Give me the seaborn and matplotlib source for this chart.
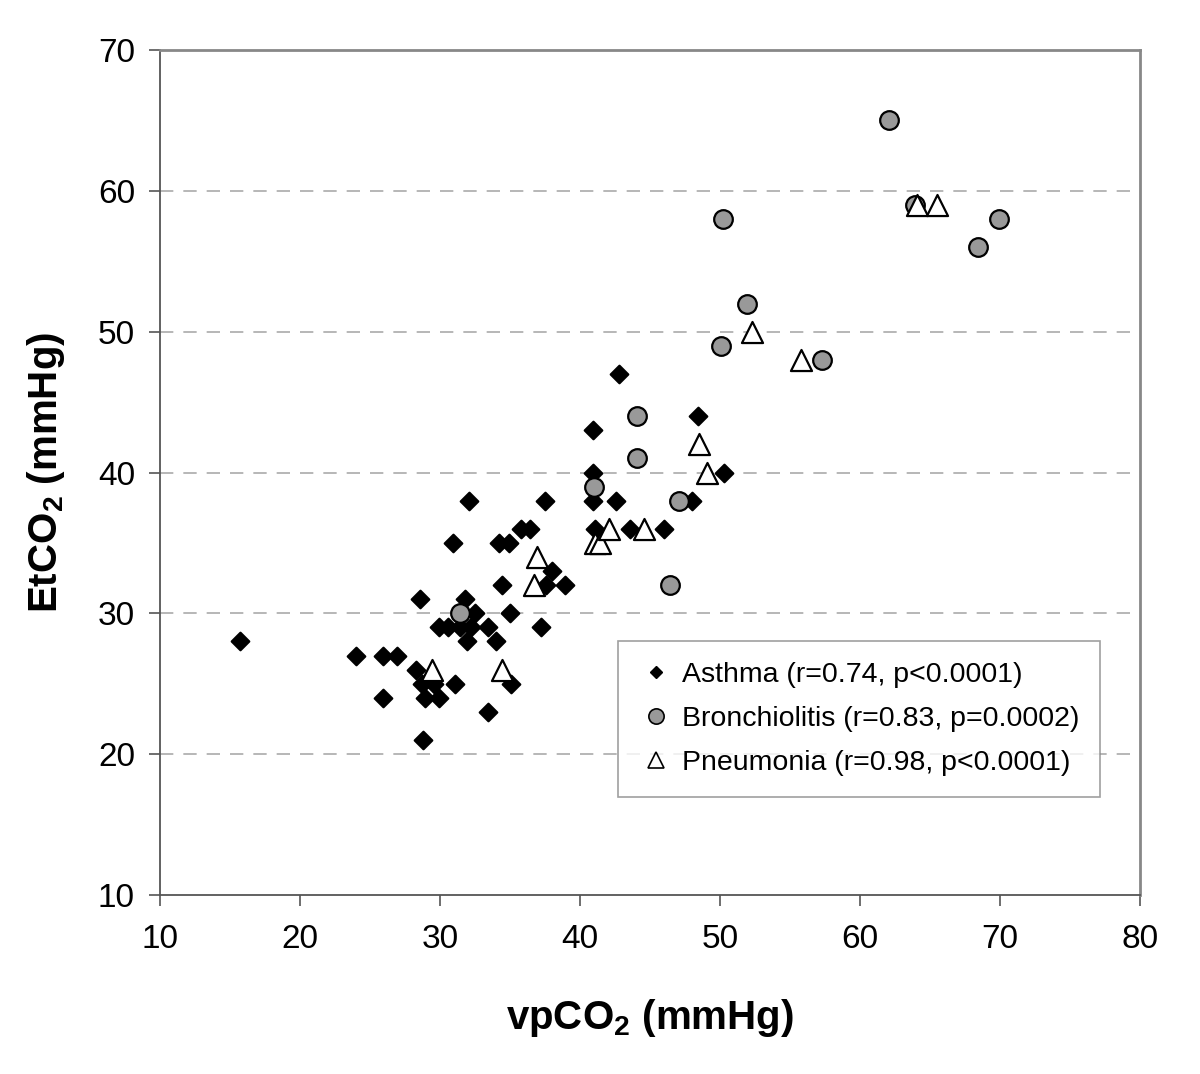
import pandas as pd
import matplotlib
matplotlib.use("Agg")
import matplotlib.pyplot as plt
import seaborn as sns
from matplotlib.lines import Line2D

# values (vpCO2, EtCO2)
asthma_x = [15.7, 24.0, 25.9, 26.9, 25.9, 28.3, 28.6, 28.7, 29.6, 31.1, 28.9, 29.9,
            28.8, 29.9, 30.6, 30.9, 31.4, 31.8, 32.1, 31.9, 32.2, 32.5, 33.4, 33.4,
            34.0, 34.4, 34.2, 34.9, 35.0, 35.1, 35.8, 36.4, 37.2, 37.5, 37.6, 38.0,
            38.9, 40.9, 40.9, 40.9, 41.1, 42.6, 42.8, 43.6, 46.0, 48.0, 48.4, 50.3]
asthma_y = [28, 27, 27, 27, 24, 26, 31, 25, 25, 25, 24, 24,
            21, 29, 29, 35, 29, 31, 38, 28, 29, 30, 29, 23,
            28, 32, 35, 35, 30, 25, 36, 36, 29, 38, 32, 33,
            32, 43, 40, 38, 36, 38, 47, 36, 36, 38, 44, 40]

bronch_x = [31.4, 41.0, 44.1, 44.1, 46.4, 47.1, 50.1, 50.2, 51.9, 57.3, 62.1, 63.9, 68.4, 69.9]
bronch_y = [30, 39, 44, 41, 32, 38, 49, 58, 52, 48, 65, 59, 56, 58]

pneu_x = [29.4, 34.4, 36.7, 36.9, 41.1, 41.4, 42.1, 44.6, 48.5, 49.1, 52.3, 55.8, 64.1, 65.5]
pneu_y = [26, 26, 32, 34, 35, 35, 36, 36, 42, 40, 50, 48, 59, 59]

groups = ["Asthma", "Bronchiolitis", "Pneumonia"]
legend_labels = ["Asthma (r=0.74, p<0.0001)",
                 "Bronchiolitis (r=0.83, p=0.0002)",
                 "Pneumonia (r=0.98, p<0.0001)"]

df = pd.concat([
    pd.DataFrame({"vpCO2": asthma_x, "EtCO2": asthma_y, "group": "Asthma"}),
    pd.DataFrame({"vpCO2": bronch_x, "EtCO2": bronch_y, "group": "Bronchiolitis"}),
    pd.DataFrame({"vpCO2": pneu_x, "EtCO2": pneu_y, "group": "Pneumonia"}),
], ignore_index=True)

sns.set_style("white")
plt.rcParams["font.family"] = ["Liberation Sans", "DejaVu Sans"]
plt.rcParams["mathtext.fontset"] = "custom"
plt.rcParams["mathtext.rm"] = "Liberation Sans"
plt.rcParams["mathtext.bf"] = "Liberation Sans:bold"
plt.rcParams["text.color"] = "black"
plt.rcParams["axes.labelcolor"] = "black"
plt.rcParams["xtick.labelcolor"] = "black"
plt.rcParams["ytick.labelcolor"] = "black"

fig = plt.figure(figsize=(12, 10.74), dpi=100)
ax = fig.add_axes([0.1333, 0.1667, 0.8167, 0.7867])

face = {"Asthma": "black", "Bronchiolitis": "#999999", "Pneumonia": "white"}
marks = {"Asthma": "D", "Bronchiolitis": "o", "Pneumonia": "^"}
sizes = {"Asthma": 80, "Bronchiolitis": 180, "Pneumonia": 230}

# draw each group so the later groups sit on top
for g in groups:
    sub = df[df["group"] == g]
    sns.scatterplot(data=sub, x="vpCO2", y="EtCO2", color=face[g], marker=marks[g],
                    s=sizes[g], edgecolor="black", linewidth=1.6, legend=False,
                    ax=ax, zorder=3)

ax.set_xlim(10, 80)
ax.set_ylim(10, 70)
ax.set_xticks(range(10, 81, 10))
ax.set_yticks(range(10, 71, 10))
for yv in range(20, 70, 10):
    ax.axhline(yv, color="#aaaaaa", lw=1.2, ls=(0, (8, 6)), zorder=1)

for side in ["left", "bottom"]:
    ax.spines[side].set_color("#555555")
    ax.spines[side].set_linewidth(1.3)
for side in ["top", "right"]:
    ax.spines[side].set_color("#888888")
    ax.spines[side].set_linewidth(2)

ax.tick_params(axis="both", which="major", direction="out", length=8, width=1.2,
               color="#555555", labelsize=24, pad=10, left=True, bottom=True)
ax.tick_params(axis="x", pad=13)

ax.set_xlabel(r"vpCO$_\mathbf{2}$ (mmHg)", fontsize=29, fontweight="bold", labelpad=30)
ax.set_ylabel(r"EtCO$_\mathbf{2}$ (mmHg)", fontsize=29, fontweight="bold", labelpad=22)

handles = [
    Line2D([], [], ls="", marker="D", ms=6, mfc="black", mec="black"),
    Line2D([], [], ls="", marker="o", ms=11, mfc="#999999", mec="black", mew=1.2),
    Line2D([], [], ls="", marker="^", ms=12, mfc="white", mec="black", mew=1.2),
]
leg = ax.legend(handles, legend_labels, loc="lower left", bbox_to_anchor=(0.467, 0.116),
                fontsize=20.5, frameon=True, fancybox=False, edgecolor="#888888",
                handlelength=1.2, handletextpad=0.3, labelspacing=0.62,
                borderpad=0.75, borderaxespad=0)
leg.get_frame().set_linewidth(1.2)

fig.savefig("out.png", dpi=100)
